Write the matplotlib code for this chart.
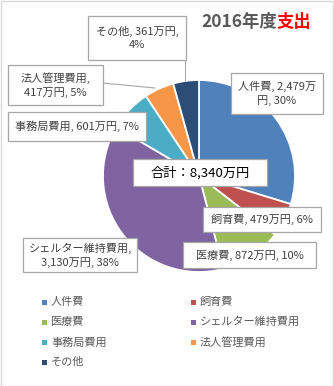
import matplotlib
matplotlib.use("Agg")
import matplotlib.pyplot as plt
from matplotlib.patches import Rectangle
from matplotlib.lines import Line2D

plt.rcParams['font.family'] = ['Noto Sans CJK JP', 'DejaVu Sans']

# ---- data ----
categories = ["人件費", "飼育費", "医療費", "シェルター維持費用", "事務局費用", "法人管理費用", "その他"]
values = [2479, 479, 872, 3130, 601, 417, 361]
total = 8340
colors = ["#4F81BD", "#C0504D", "#9BBB59", "#8064A2", "#4BACC6", "#F79646", "#2C4D75"]
label_templates = [
    "{n}, {v}万\n円, {p}%",
    "{n}, {v}万円, {p}%",
    "{n}, {v}万円, {p}%",
    "{n},\n{v}万円, {p}%",
    "{n}, {v}万円, {p}%",
    "{n},\n{v}万円, {p}%",
    "{n}, {v}万円,\n{p}%",
]

W, H = 334, 386
fig = plt.figure(figsize=(W / 100, H / 100), dpi=100)
fig.patch.set_facecolor("white")

def fx(x):
    return x / W

def fy(y):
    return 1 - y / H

# figure border
fig.patches.append(Rectangle((0.5 / W, 0.5 / H), 1 - 1.5 / W, 1 - 1.5 / H, transform=fig.transFigure,
                             fill=False, ec="#D9D9D9", lw=1.0, zorder=0))

# pie axes
cx, cy, r = 199, 176, 96
ax = fig.add_axes([fx(cx - r), fy(cy + r), 2 * r / W, 2 * r / H])
ax.pie(values, colors=colors, startangle=90, counterclock=False,
       wedgeprops=dict(edgecolor="white", linewidth=1.3))
ax.set_xlim(-1, 1)
ax.set_ylim(-1, 1)
ax.set_aspect("equal")
ax.axis("off")

TXT = "#404040"
BOX = "#A6A6A6"

def box(x0, y0, x1, y1):
    fig.patches.append(Rectangle((fx(x0), fy(y1)), (x1 - x0) / W, (y1 - y0) / H,
                                 transform=fig.transFigure, fc="white", ec=BOX, lw=0.9, zorder=2))

# label boxes (pixel layout)
boxes = [
    (231, 73, 323, 114),
    (203, 207, 321, 232),
    (183, 242, 316, 268),
    (23, 238, 137, 272),
    (8, 112, 146, 141),
    (8, 65, 103, 105),
    (88, 16, 186, 60),
]

# leader lines
fig.lines.append(Line2D([fx(185), fx(185)], [fy(60), fy(80)], transform=fig.transFigure,
                        color=BOX, lw=0.8, zorder=1.5))
fig.lines.append(Line2D([fx(103), fx(155)], [fy(83), fy(88)], transform=fig.transFigure,
                        color=BOX, lw=0.8, zorder=1.5))

for i, (n, v) in enumerate(zip(categories, values)):
    p = round(v / total * 100)
    s = label_templates[i].format(n=n, v=f"{v:,}", p=p)
    x0, y0, x1, y1 = boxes[i]
    box(x0, y0, x1, y1)
    fig.text(fx((x0 + x1) / 2), fy((y0 + y1) / 2), s, ha="center", va="center",
             fontsize=8, color=TXT, linespacing=1.35, zorder=3)

# total box
box(133, 159, 267, 186)
fig.text(fx(200), fy(172.5), f"合計：{total:,}万円", ha="center", va="center",
         fontsize=9.5, color="black", zorder=3)

# title
fig.text(fx(277), fy(22), "2016年度", ha="right", va="center", fontsize=12.5,
         fontweight="bold", color="#595959", zorder=3)
fig.text(fx(276), fy(22), "支出", ha="left", va="center", fontsize=12.5,
         fontweight="bold", color="#FF0000", zorder=3)

# legend (two columns, row-wise order)
for i, (n, c) in enumerate(zip(categories, colors)):
    row, col = i // 2, i % 2
    yc = 302 + row * 20
    xs = 42 + col * 149
    fig.patches.append(Rectangle((fx(xs), fy(yc + 2.5)), 5 / W, 5 / H, transform=fig.transFigure,
                                 fc=c, ec="none", zorder=3))
    fig.text(fx(xs + 9), fy(yc), n, ha="left", va="center", fontsize=8, color="#595959", zorder=3)

fig.savefig("out.png", dpi=100)
